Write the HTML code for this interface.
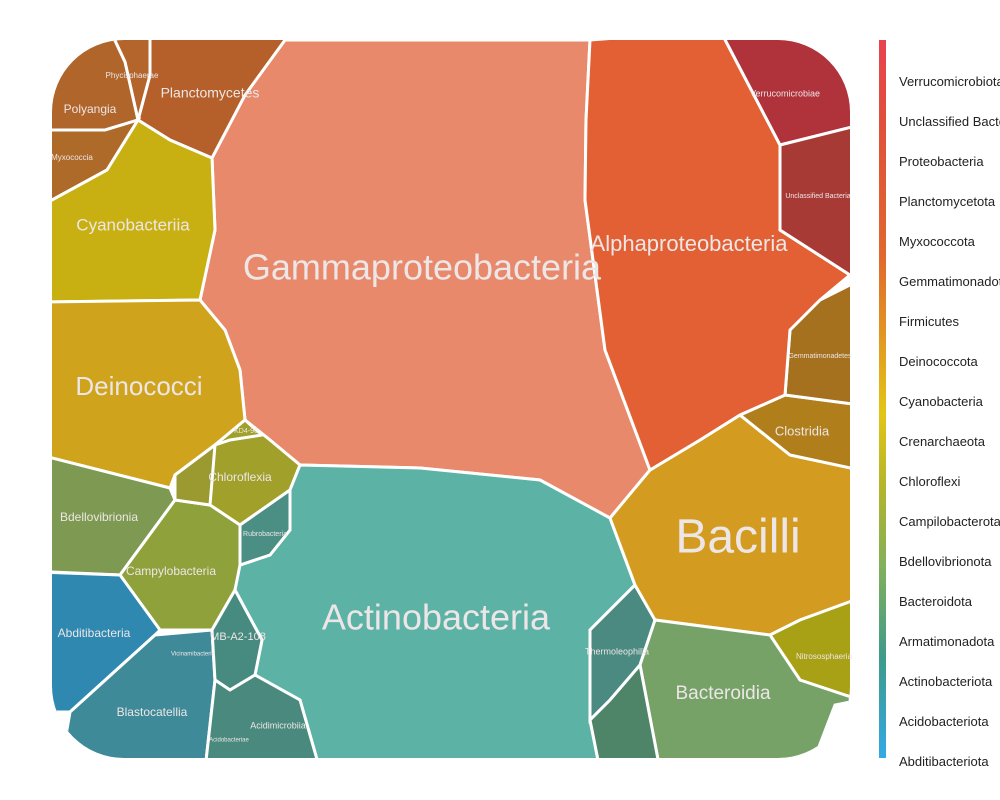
<!DOCTYPE html>
<html><head><meta charset="utf-8"><style>
html,body{margin:0;padding:0;background:#fff;}
svg{display:block;font-family:"Liberation Sans",sans-serif;}
</style></head><body>
<svg id="chart" width="1000" height="800">
<defs>
<clipPath id="clip"><rect x="52" y="40" width="798" height="718" rx="72" ry="72"/></clipPath>
<linearGradient id="lg" x1="0" y1="0" x2="0" y2="1">
<stop offset="0" stop-color="#E8434F"/><stop offset="0.12" stop-color="#E0503A"/>
<stop offset="0.3" stop-color="#E0682E"/><stop offset="0.42" stop-color="#E29A20"/>
<stop offset="0.52" stop-color="#E3C516"/><stop offset="0.62" stop-color="#B5B52A"/>
<stop offset="0.74" stop-color="#7FAF5E"/><stop offset="0.86" stop-color="#3E9A8A"/>
<stop offset="1" stop-color="#33A9E6"/></linearGradient>
</defs>
<g id="cells" clip-path="url(#clip)"></g>
<g id="labels"></g>
<rect x="879" y="40" width="7" height="718" fill="url(#lg)"/>
<g id="legend"></g>
</svg>
<script>
const cellNames = ["Gammaproteobacteria","Planctomycetes","Phycisphaerae","Polyangia","Myxococcia","Cyanobacteriia","Deinococci","Bdellovibrionia","Chloroflexia","Campylobacteria","Abditibacteria","Blastocatellia","Actinobacteria","Rubrobacteria","MB-A2-108","Acidimicrobiia","Thermoleophilia","Bacilli","Clostridia","Gemmatimonadetes","Alphaproteobacteria","Verrucomicrobiae","Unclassified Bacteria","Nitrososphaeria","Bacteroidia","Small-1","KD4-96","Small-2"];
const cellColors = ["#E8896B","#B5602A","#B3652C","#B0652A","#AE6A28","#C8B012","#CFA41C","#7E9A52","#A0A02B","#8FA13A","#2E88B0","#3F8A98","#5DB2A6","#4A8E84","#468A80","#4A8A7E","#4A8A80","#D39C20","#B07F1C","#A5711E","#E26034","#B0323A","#A83A36","#A8A015","#76A268","#4E8468","#A0A02B","#9A9A30"];
const cellPolys = [
[[285,40],[590,40],[586,120],[585,200],[605,350],[650,470],[610,518],[540,480],[420,468],[300,465],[270,440],[245,420],[240,370],[225,330],[200,300],[215,230],[212,158],[245,95]],
[[150,30],[285,30],[285,40],[245,95],[212,158],[170,140],[138,120],[150,75]],
[[110,30],[150,30],[150,75],[138,120],[125,62]],
[[40,30],[110,30],[125,62],[138,120],[105,130],[52,130],[40,130]],
[[40,130],[105,130],[138,120],[107,170],[52,200],[40,200]],
[[40,200],[52,200],[107,170],[138,120],[170,140],[212,158],[215,230],[200,300],[52,302],[40,302]],
[[40,302],[200,300],[225,330],[240,370],[245,420],[215,445],[175,475],[170,488],[52,458],[40,458]],
[[40,458],[52,458],[170,488],[175,500],[120,575],[52,572],[40,572]],
[[245,420],[270,440],[300,465],[290,490],[240,525],[210,505],[175,500],[175,475],[215,445]],
[[175,500],[210,505],[240,525],[240,570],[235,590],[212,630],[160,630],[120,575]],
[[40,572],[120,575],[160,630],[155,635],[70,712],[40,712]],
[[70,712],[155,635],[212,630],[215,680],[205,770],[60,770]],
[[300,465],[420,468],[540,480],[610,518],[635,585],[590,630],[590,720],[600,770],[320,770],[300,700],[255,675],[262,640],[235,590],[240,565],[270,555],[290,530],[290,490]],
[[240,525],[290,490],[290,530],[270,555],[240,565]],
[[212,630],[235,590],[262,640],[255,675],[230,690],[215,680]],
[[215,680],[230,690],[255,675],[300,700],[320,770],[205,770]],
[[590,630],[635,585],[655,620],[640,665],[610,700],[590,720]],
[[610,518],[650,470],[700,440],[740,415],[790,455],[860,470],[860,598],[800,620],[770,635],[655,620],[635,585]],
[[740,415],[785,395],[860,405],[860,470],[790,455]],
[[785,395],[790,330],[820,300],[860,280],[860,405]],
[[590,40],[720,30],[780,145],[780,230],[850,275],[820,300],[790,330],[785,395],[740,415],[700,440],[650,470],[605,350],[585,200],[586,120]],
[[720,30],[860,30],[860,125],[780,145]],
[[780,145],[860,125],[860,278],[850,275],[780,230]],
[[770,635],[800,620],[860,598],[860,700],[800,680]],
[[655,620],[770,635],[800,680],[860,700],[835,705],[810,770],[660,770],[640,665]],
[[590,720],[610,700],[640,665],[660,770],[600,770]],
[[215,445],[245,420],[262,435],[230,440]],
[[175,475],[215,445],[210,505],[175,500]]
];
const labelNames = ["Gammaproteobacteria","Planctomycetes","Phycisphaerae","Polyangia","Myxococcia","Cyanobacteriia","Deinococci","Bdellovibrionia","Chloroflexia","Campylobacteria","Abditibacteria","Blastocatellia","Actinobacteria","Rubrobacteria","MB-A2-108","Acidimicrobiia","Thermoleophilia","Bacilli","Clostridia","Gemmatimonadetes","Alphaproteobacteria","Verrucomicrobiae","Unclassified Bacteria","Nitrososphaeria","Bacteroidia","KD4-96","Vicinamibacteria","Acidobacteriae"];
const labelX = [422,210,132,90,72,133,139,99,240,171,94,152,436,265,238,278,617,738,802,820,689,785,818,824,723,246,193,229];
const labelY = [270,94,76,110,158,226,388,518,478,572,634,713,620,534,637,726,652,540,432,356,245,94,196,657,694,431,654,740];
const labelSizes = [36,14,8,12,8,17,26,12,12,12,12,12,36,7,11,9,9,48,13,7,22,9,7,8,19,7,6,6];
const cg=document.getElementById('cells');
cellPolys.forEach((p,i)=>{
 const el=document.createElementNS('http://www.w3.org/2000/svg','polygon');
 el.setAttribute('points',p.map(q=>q.join(',')).join(' '));
 el.setAttribute('fill',cellColors[i]);el.setAttribute('stroke','#fff');el.setAttribute('stroke-width','3');
 
 
 cg.appendChild(el);
});
const lg=document.getElementById('labels');
labelNames.forEach((n,i)=>{
 const t=document.createElementNS('http://www.w3.org/2000/svg','text');
 t.setAttribute('x',labelX[i]);t.setAttribute('y',labelY[i]);
 t.setAttribute('text-anchor','middle');t.setAttribute('dominant-baseline','middle');
 t.setAttribute('font-size',labelSizes[i]);t.setAttribute('fill','#EDE6E6');
 t.textContent=n;
 
 
 lg.appendChild(t);
});
const legendLabels=["Verrucomicrobiota","Unclassified Bacteria","Proteobacteria","Planctomycetota","Myxococcota","Gemmatimonadota","Firmicutes","Deinococcota","Cyanobacteria","Crenarchaeota","Chloroflexi","Campilobacterota","Bdellovibrionota","Bacteroidota","Armatimonadota","Actinobacteriota","Acidobacteriota","Abditibacteriota"];
const leg=document.getElementById('legend');
legendLabels.forEach((n,i)=>{
 const t=document.createElementNS('http://www.w3.org/2000/svg','text');
 t.setAttribute('x',899);t.setAttribute('y',86+i*40);
 t.setAttribute('font-size','13');t.setAttribute('fill','#222');
 t.textContent=n;
 
 
 leg.appendChild(t);
});
</script>
</body></html>
